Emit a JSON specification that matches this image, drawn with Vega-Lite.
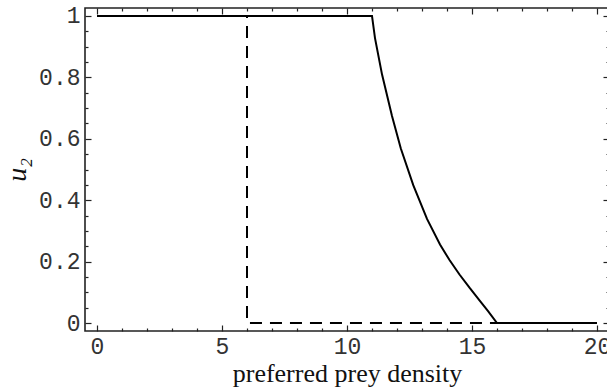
{
  "$schema": "https://vega.github.io/schema/vega-lite/v6.json",
  "width": 524,
  "height": 323,
  "autosize": {"type": "none"},
  "padding": {"left": 85, "top": 8, "right": 0, "bottom": 58},
  "background": "white",
  "config": {
    "view": {"stroke": "#222222", "strokeWidth": 1.6},
    "axis": {
      "domain": false,
      "grid": false,
      "tickColor": "#222222",
      "tickWidth": 1.2,
      "labelFont": "Liberation Mono",
      "labelFontSize": 23,
      "labelColor": "#333333",
      "titleColor": "#111111"
    }
  },
  "datasets": {
    "solid": [
      {"i": 0, "x": 0, "u2": 1},
      {"i": 1, "x": 11, "u2": 1},
      {"i": 2, "x": 11.12, "u2": 0.928},
      {"i": 3, "x": 11.4, "u2": 0.81},
      {"i": 4, "x": 11.8, "u2": 0.674},
      {"i": 5, "x": 12.15, "u2": 0.569},
      {"i": 6, "x": 12.65, "u2": 0.449},
      {"i": 7, "x": 13.2, "u2": 0.339},
      {"i": 8, "x": 13.72, "u2": 0.256},
      {"i": 9, "x": 14.1, "u2": 0.205},
      {"i": 10, "x": 14.5, "u2": 0.158},
      {"i": 11, "x": 14.9, "u2": 0.115},
      {"i": 12, "x": 15.3, "u2": 0.074},
      {"i": 13, "x": 15.65, "u2": 0.038},
      {"i": 14, "x": 16, "u2": 0},
      {"i": 15, "x": 20, "u2": 0}
    ],
    "dashed": [
      {"i": 0, "x": 0, "u2": 1},
      {"i": 1, "x": 6, "u2": 1},
      {"i": 2, "x": 6, "u2": 0},
      {"i": 3, "x": 16, "u2": 0}
    ]
  },
  "layer": [
    {
      "data": {"name": "dashed"},
      "mark": {"type": "line", "color": "black", "strokeWidth": 2, "strokeDash": [12, 8]},
      "encoding": {
        "x": {
          "field": "x", "type": "quantitative",
          "scale": {"domain": [-0.48, 20.48], "nice": false, "zero": false},
          "axis": {
            "orient": "top", "title": null, "labels": false,
            "values": [0,1,2,3,4,5,6,7,8,9,10,11,12,13,14,15,16,17,18,19,20],
            "tickSize": {"condition": {"test": "datum.value % 5 === 0", "value": -6}, "value": -3}
          }
        },
        "y": {
          "field": "u2", "type": "quantitative",
          "scale": {"domain": [-0.026, 1.026], "nice": false, "zero": false},
          "axis": {
            "orient": "right", "title": null, "labels": false,
            "values": [0,0.05,0.1,0.15,0.2,0.25,0.3,0.35,0.4,0.45,0.5,0.55,0.6,0.65,0.7,0.75,0.8,0.85,0.9,0.95,1],
            "tickSize": {"condition": {"test": "abs(datum.value*5 - round(datum.value*5)) < 0.000001", "value": -6}, "value": -3}
          }
        },
        "order": {"field": "i", "type": "quantitative"}
      }
    },
    {
      "data": {"name": "solid"},
      "mark": {"type": "line", "color": "black", "strokeWidth": 2},
      "encoding": {
        "x": {
          "field": "x", "type": "quantitative",
          "axis": {
            "orient": "bottom",
            "title": "preferred prey density",
            "titleFont": "Liberation Serif",
            "titleFontSize": 26,
            "titleFontWeight": "normal",
            "titlePadding": 2,
            "labelPadding": 10,
            "values": [0,1,2,3,4,5,6,7,8,9,10,11,12,13,14,15,16,17,18,19,20],
            "labelExpr": "datum.value % 5 === 0 ? format(datum.value, '~g') : ''",
            "tickSize": {"condition": {"test": "datum.value % 5 === 0", "value": -6}, "value": -3}
          }
        },
        "y": {
          "field": "u2", "type": "quantitative",
          "axis": {
            "orient": "left",
            "title": "u₂",
            "titleFont": "Liberation Serif",
            "titleFontStyle": "italic",
            "titleFontSize": 28,
            "titleFontWeight": "normal",
            "titlePadding": 7,
            "labelPadding": 11,
            "values": [0,0.05,0.1,0.15,0.2,0.25,0.3,0.35,0.4,0.45,0.5,0.55,0.6,0.65,0.7,0.75,0.8,0.85,0.9,0.95,1],
            "labelExpr": "abs(datum.value*5 - round(datum.value*5)) < 0.000001 ? format(datum.value, '~g') : ''",
            "tickSize": {"condition": {"test": "abs(datum.value*5 - round(datum.value*5)) < 0.000001", "value": -6}, "value": -3}
          }
        },
        "order": {"field": "i", "type": "quantitative"}
      }
    }
  ],
  "resolve": {"axis": {"x": "independent", "y": "independent"}}
}
